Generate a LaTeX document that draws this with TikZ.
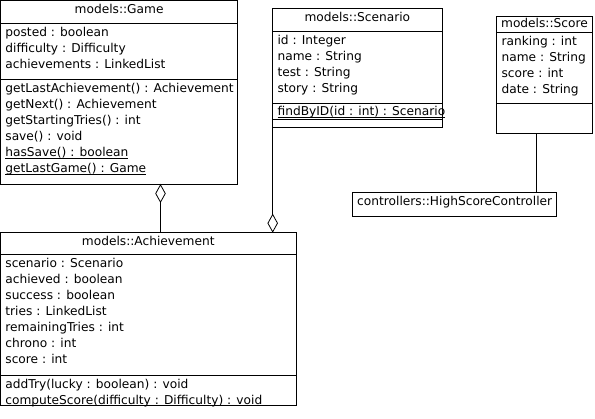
\documentclass[tikz,border=0pt]{standalone}
\usepackage{fontspec}
\setmainfont{DejaVu Sans}
\usetikzlibrary{arrows.meta, positioning}

% static members: underline close to the baseline
\newcommand{\umlul}[1]{\setbox0\hbox{#1}\rlap{\rule[-2pt]{\wd0}{0.7pt}}\box0}

\begin{document}
\begin{tikzpicture}[
    x=1pt, y=-1pt, line width=0.8pt,
    font=\fontsize{12.2}{16}\selectfont,
    part/.style={draw, inner sep=0pt, outer sep=0pt, minimum height=#1},
    txt/.style={anchor=north west, align=left, inner xsep=4.5pt, inner ysep=3.5pt},
    ttl/.style={anchor=north, inner ysep=3.5pt},
    agg/.style={-{Diamond[open, length=19pt, width=10.5pt]}}
  ]
  \useasboundingbox (0,0) rectangle (595,419);

  % models::Game
  \node[part=23pt, minimum width=237.2pt, anchor=north west] (gameT) at (0.5,0.5) {};
  \node[part=56pt, minimum width=237.2pt, below=0pt of gameT] (gameA) {};
  \node[part=104.5pt, minimum width=237.2pt, below=0pt of gameA] (gameM) {};
  \node[ttl] (gameN) at (gameT.north) {models::Game};
  \node[txt] (gameAt) at (gameA.north west) {posted : boolean\\difficulty : Difficulty\\achievements : LinkedList};
  \node[txt] (gameMt) at (gameM.north west) {getLastAchievement() : Achievement\\getNext() : Achievement\\getStartingTries() : int\\save() : void\\\umlul{hasSave() : boolean}\\\umlul{getLastGame() : Game}};

  % models::Achievement
  \node[part=21.6pt, minimum width=295.5pt, anchor=north west] (achT) at (0.5,232.7) {};
  \node[part=120.7pt, minimum width=295.5pt, below=0pt of achT] (achA) {};
  \node[part=30pt, minimum width=295.5pt, below=0pt of achA] (achM) {};
  \node[ttl] (achN) at (achT.north) {models::Achievement};
  \node[txt] (achAt) at (achA.north west) {scenario : Scenario\\achieved : boolean\\success : boolean\\tries : LinkedList\\remainingTries : int\\chrono : int\\score : int};
  \node[txt] (achMt) at (achM.north west) {addTry(lucky : boolean) : void\\computeScore(difficulty : Difficulty) : void};

  % models::Scenario
  \node[part=23.4pt, minimum width=169.3pt, anchor=north west] (scnT) at (272.7,8.3) {};
  \node[part=71.6pt, minimum width=169.3pt, below=0pt of scnT] (scnA) {};
  \node[part=16pt, minimum width=169.3pt, below=0pt of scnA] (scnM) {};
  \node[part=8.4pt, minimum width=169.3pt, below=0pt of scnM] (scnO) {};
  \node[ttl] (scnN) at (scnT.north) {models::Scenario};
  \node[txt] (scnAt) at (scnA.north west) {id : Integer\\name : String\\test : String\\story : String};
  \node[txt, inner ysep=2.8pt] (scnMt) at (scnM.north west) {\umlul{findByID(id : int) : Scenario}};

  % models::Score
  \node[part=16.7pt, minimum width=95.6pt, anchor=north west] (scoreT) at (496.7,16) {};
  \node[part=70.6pt, minimum width=95.6pt, below=0pt of scoreT] (scoreA) {};
  \node[part=30pt, minimum width=95.6pt, below=0pt of scoreA] (scoreO) {};
  \node[ttl, inner ysep=2pt] (scoreN) at (scoreT.north) {models::Score};
  \node[txt] (scoreAt) at (scoreA.north west) {ranking : int\\name : String\\score : int\\date : String};

  % controllers::HighScoreController
  \node[part=24.3pt, minimum width=204.4pt, anchor=north west] (hsc) at (352.3,192) {};
  \node[txt] (hscN) at (hsc.north west) {controllers::HighScoreController};

  % links
  \coordinate (gameLink) at ([xshift=160pt]gameM.south west);
  \coordinate (scoreLink) at ([xshift=-8pt]scoreO.south);
  \draw[agg] (gameLink |- achT.north) -- (gameLink);
  \draw[agg] (scnO.south west) -- (scnO.south west |- achT.north);
  \draw (scoreLink) -- (scoreLink |- hsc.north);
\end{tikzpicture}
\end{document}
